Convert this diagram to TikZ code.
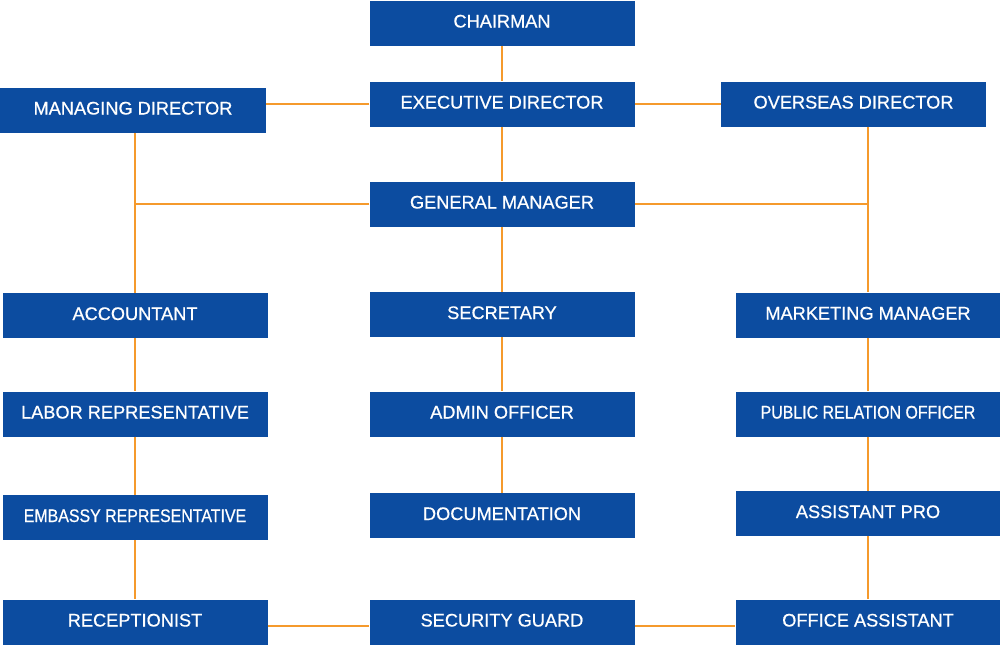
\documentclass[tikz,border=0pt]{standalone}
\usepackage{fontspec}
\setmainfont[FakeBold=0.6]{Liberation Sans}
\newfontfamily\narrowfont[FakeStretch=0.875,FakeBold=0.6]{Liberation Sans}
\usepackage{xcolor}
\usepackage{tikz}
\usetikzlibrary{positioning,calc}
\definecolor{orgblue}{HTML}{0C4CA0}
\definecolor{orgorange}{HTML}{F59A2C}

\begin{document}
\begin{tikzpicture}[
  x=1pt, y=-1pt,
  font=\fontsize{18.2}{20}\selectfont,
  box/.style={fill=orgblue, text=white, inner sep=0pt, minimum width=265pt, minimum height=45pt,
    text height=13pt, text depth=4pt, align=center},
  narrow/.style={box, font=\fontsize{18.2}{20}\narrowfont},
  link/.style={draw=orgorange, line width=2pt}
]
\useasboundingbox (0,0) rectangle (1000,645);

\node[box] (chair) at (502,23) {CHAIRMAN};
\node[box] (exec) at (502,104) {EXECUTIVE DIRECTOR};
\node[box, minimum width=266pt] (md) at (133,110) {MANAGING DIRECTOR};
\node[box] (od) at (853.5,104) {OVERSEAS DIRECTOR};
\node[box] (gm) at (502,204) {GENERAL MANAGER};

\node[box] (acc) at (135,315.5) {ACCOUNTANT};
\node[box] (sec) at (502,314.5) {SECRETARY};
\node[box] (mm) at (868,315) {MARKETING MANAGER};

\node[box] (lab) at (135,414) {LABOR REPRESENTATIVE};
\node[box] (adm) at (502,414) {ADMIN OFFICER};
\node[narrow] (pro) at (868,414) {PUBLIC RELATION OFFICER};

\node[narrow] (emb) at (135,517.5) {EMBASSY REPRESENTATIVE};
\node[box] (doc) at (502,515.5) {DOCUMENTATION};
\node[box] (apro) at (868,513.5) {ASSISTANT PRO};

\node[box] (rec) at (135,622) {RECEPTIONIST};
\node[box] (sg) at (502,622) {SECURITY GUARD};
\node[box] (oa) at (868,622) {OFFICE ASSISTANT};

% top level
\draw[link] (chair) -- (exec);
\draw[link] (exec.west) -- (exec.west -| md.east);
\draw[link] (exec) -- (od);
\draw[link] (exec) -- (gm);

% branches from the general manager
\draw[link] (acc.north |- md.south) -- (acc.north);
\draw[link] (mm.north |- od.south) -- (mm.north);
\draw[link] (gm.west) -- (gm.west -| acc.north);
\draw[link] (gm.east) -- (gm.east -| mm.north);
\draw[link] (gm) -- (sec);

% columns
\draw[link] (acc) -- (lab); \draw[link] (lab) -- (emb); \draw[link] (emb) -- (rec);
\draw[link] (sec) -- (adm); \draw[link] (adm) -- (doc);
\draw[link] (mm) -- (pro); \draw[link] (pro) -- (apro); \draw[link] (apro) -- (oa);

% bottom row
\draw[link] ([yshift=-4pt]rec.east) -- ([yshift=-4pt]sg.west);
\draw[link] ([yshift=-4pt]sg.east) -- ([yshift=-4pt]oa.west);
\end{tikzpicture}
\end{document}
